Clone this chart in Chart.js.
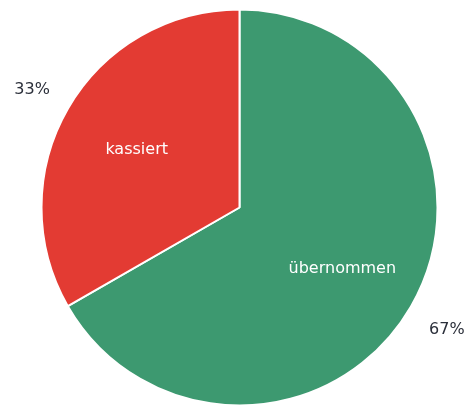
<!DOCTYPE html>
<html>
<head>
<meta charset="utf-8">
<script src="https://cdn.jsdelivr.net/npm/chart.js@4/dist/chart.umd.min.js"></script>
<style>
    html, body { margin: 0; padding: 0; background: #fff; }
    #wrap { width: 466px; height: 407px; }
</style>
</head>
<body>
<div id="wrap"><canvas id="pie"></canvas></div>
<script>
const categories = ['übernommen', 'kassiert'];
const shares = [66.7, 33.3];
const colors = ['#3d9970', '#e33b33'];

// draws the name inside the slice and the percentage outside it
const sliceLabels = {
    id: 'sliceLabels',
    afterDatasetsDraw(chart) {
        const ctx = chart.ctx;
        const meta = chart.getDatasetMeta(0);
        const total = shares.reduce((a, b) => a + b, 0);

        ctx.save();
        ctx.textAlign = 'center';
        ctx.textBaseline = 'middle';
        ctx.font = '16px "DejaVu Sans"';

        meta.data.forEach((arc, i) => {
            const mid = (arc.startAngle + arc.endAngle) / 2;
            const r = arc.outerRadius;

            ctx.fillStyle = '#ffffff';
            ctx.fillText(categories[i], arc.x + Math.cos(mid) * r * 0.6, arc.y + Math.sin(mid) * r * 0.6 + 2);

            ctx.fillStyle = '#2b2f3a';
            const pct = Math.round(shares[i] / total * 100) + '%';
            ctx.fillText(pct, arc.x + Math.cos(mid) * r * 1.21, arc.y + Math.sin(mid) * r * 1.21 + 2);
        });
        ctx.restore();
    }
};

new Chart(document.getElementById('pie').getContext('2d'), {
    type: 'pie',
    data: {
        labels: categories,
        datasets: [{
            data: shares,
            backgroundColor: colors,
            borderColor: '#ffffff',
            borderWidth: 2,
            hoverOffset: 0
        }]
    },
    options: {
        responsive: true,
        maintainAspectRatio: false,
        animation: false,
        radius: 198,
        layout: {
            padding: { left: 41, right: 28, top: 10, bottom: 2 }
        },
        plugins: {
            legend: { display: false },
            tooltip: { enabled: false }
        }
    },
    plugins: [sliceLabels]
});
</script>
</body>
</html>
